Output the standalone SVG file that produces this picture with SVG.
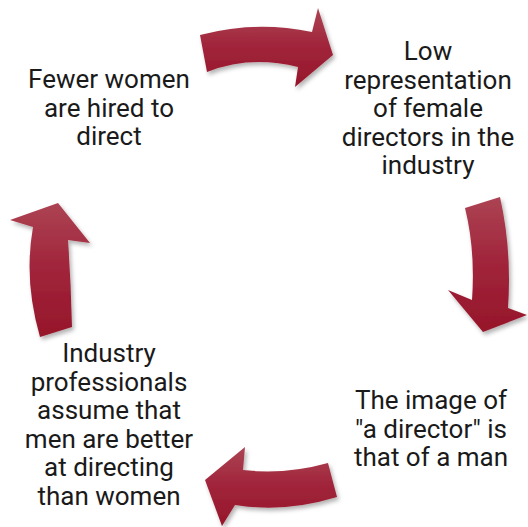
<svg xmlns="http://www.w3.org/2000/svg" width="528" height="527" viewBox="0 0 528 527">
<style>
  .lbl { font-family: Roboto, "Liberation Sans", sans-serif; font-size: 26px; fill: #1a1a1a; text-anchor: middle; }
  .arr { fill: url(#g); filter: url(#sh); }
</style>
<defs>
  <linearGradient id="g" x1="0" y1="0" x2="0" y2="1">
    <stop offset="0" stop-color="#ac4353"/>
    <stop offset="0.5" stop-color="#a0243a"/>
    <stop offset="1" stop-color="#96162a"/>
  </linearGradient>
  <filter id="sh" x="-20%" y="-20%" width="140%" height="140%">
    <feDropShadow dx="2" dy="3" stdDeviation="2" flood-color="#000" flood-opacity="0.3"/>
  </filter>
</defs>
<rect width="528" height="527" fill="#fff"/>
<g id="connectors">
  <path class="arr" d="M200,35 Q255,20 312,32 L318,8 L333,55 L295,87 L298,67 Q250,55 207,72 Z"/>
  <path class="arr" d="M465,208 L500,197 Q512,250 508,308 L527,315 L483,332 L448,290 L472,300 Q475.5,250 465,208 Z"/>
  <path class="arr" d="M328,463 L337,497 Q285,513 235,505 L222,526 L205,480 L245,447 L243,470 Q285,475 328,463 Z"/>
  <path class="arr" d="M10,220 L58,203 L90,243 L68,240 Q71,283 72,327 L40,337 Q23.5,280 33,227 Z"/>
</g>
<g id="node-fewer">
  <text class="lbl" x="109" y="88">Fewer women</text>
  <text class="lbl" x="109" y="116.5">are hired to</text>
  <text class="lbl" x="109" y="145">direct</text>
</g>
<g id="node-low">
  <text class="lbl" x="428" y="60">Low</text>
  <text class="lbl" x="428" y="88.5">representation</text>
  <text class="lbl" x="428" y="117">of female</text>
  <text class="lbl" x="428" y="145.5">directors in the</text>
  <text class="lbl" x="428" y="174">industry</text>
</g>
<g id="node-image">
  <text class="lbl" x="431" y="409">The image of</text>
  <text class="lbl" x="431" y="437.5">"a director" is</text>
  <text class="lbl" x="431" y="466">that of a man</text>
</g>
<g id="node-industry">
  <text class="lbl" x="109" y="362">Industry</text>
  <text class="lbl" x="109" y="390.5">professionals</text>
  <text class="lbl" x="109" y="419">assume that</text>
  <text class="lbl" x="109" y="447.5">men are better</text>
  <text class="lbl" x="109" y="476">at directing</text>
  <text class="lbl" x="109" y="504.5">than women</text>
</g>
</svg>
